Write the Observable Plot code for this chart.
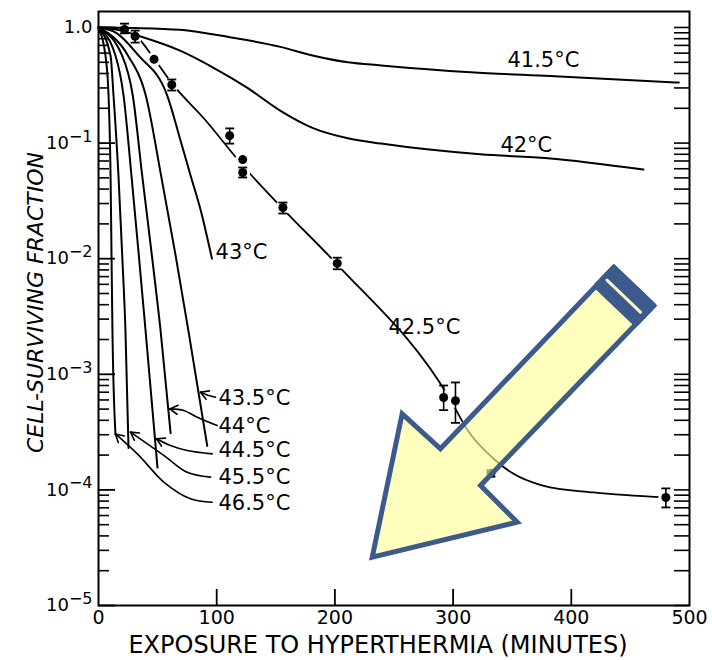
<!DOCTYPE html>
<html><head><meta charset="utf-8">
<script src="https://cdn.jsdelivr.net/npm/d3@7"></script>
<script src="https://cdn.jsdelivr.net/npm/@observablehq/plot@0.6"></script>
<style>
body{margin:0;background:#fff;}
svg{display:block;}
</style></head><body>
<script>
// ---------- data (minutes, surviving fraction) ----------
const t415Min  = [0, 30, 69, 112, 154, 182, 211, 239, 315, 382, 491];
const t415Frac = [1, 0.99, 0.955, 0.82, 0.68, 0.57, 0.50, 0.47, 0.41, 0.38, 0.334];
const t42Min   = [0, 15, 35, 69, 97, 126, 154, 182, 211, 239, 323, 380, 461];
const t42Frac  = [1, 0.96, 0.84, 0.63, 0.45, 0.30, 0.19, 0.134, 0.11, 0.099, 0.08, 0.074, 0.059];
const t425Min  = [0, 10, 22, 31, 47, 62, 90, 122, 156, 202, 297, 313, 334, 349, 376, 419, 480];
const t425Frac = [1, 0.995, 0.96, 0.86, 0.54, 0.33, 0.16, 0.064, 0.027, 0.0089, 6.2e-4, 3.2e-4, 1.87e-4, 1.42e-4, 1.09e-4, 9.5e-5, 8.6e-5];
const t43Min   = [0, 15, 34, 58, 70, 78, 87, 96];
const t43Frac  = [1, 0.9, 0.57, 0.26, 0.10, 0.052, 0.025, 0.01];
const t435Min  = [0, 25, 40, 53, 65, 76, 92];
const t435Frac = [1, 0.57, 0.258, 0.052, 0.011, 0.0024, 2.4e-4];
const t44Min   = [0, 20, 29, 37, 45, 52.5, 61];
const t44Frac  = [1, 0.57, 0.258, 0.052, 0.011, 0.0024, 3.1e-4];
const t445Min  = [0, 14.4, 21.2, 27.9, 34, 39.8, 49.9];
const t445Frac = [1, 0.57, 0.258, 0.052, 0.011, 0.0024, 1.56e-4];
const t455Min  = [0, 10.2, 12.7, 16.9, 20, 22.8, 25.4];
const t455Frac = [1, 0.57, 0.258, 0.052, 0.011, 0.0024, 2.3e-4];
const t465Min  = [0, 5.9, 8.5, 10.2, 11, 11.8, 14.4];
const t465Frac = [1, 0.57, 0.258, 0.052, 0.011, 0.0024, 3.0e-4];

// 42.5 °C measured points with error bars (null = no bar)
const ptMin  = [22, 31, 47, 62, 111, 122, 122, 156, 202, 292, 302, 332, 480];
const ptFrac = [0.96, 0.84, 0.53, 0.32, 0.116, 0.072, 0.0557, 0.0277, 0.0091, 6.3e-4, 5.9e-4, 1.39e-4, 8.6e-5];
const ptLo   = [0.89, 0.74, null, 0.285, 0.099, null, 0.0504, 0.0246, 0.0081, 4.9e-4, 3.8e-4, 1.3e-4, 7.05e-5];
const ptHi   = [1.08, 0.94, null, 0.355, 0.134, null, 0.0615, 0.0306, 0.0102, 8.0e-4, 8.5e-4, 1.48e-4, 1.03e-4];

// curve labels
const labelText = ["41.5°C", "42°C", "42.5°C", "43°C", "43.5°C", "44°C", "44.5°C", "45.5°C", "46.5°C"];
const labelMin  = [346, 340, 245.3, 99, 101.5, 101.5, 101.5, 101.5, 101.5];
const labelFrac = [0.519, 0.0953, 2.54e-3, 0.0113, 6.18e-4, 3.53e-4, 2.19e-4, 1.28e-4, 7.62e-5];

// leader lines (label -> curve end)
const lead435Min = [99.0, 93.3, 86.3];      const lead435Frac = [6.34e-4, 6.56e-4, 7.0e-4];
const lead44Min  = [100.4, 83.5, 72.2, 60.3]; const lead44Frac = [3.6e-4, 4.25e-4, 4.86e-4, 5.02e-4];
const lead445Min = [96.2, 75.0, 60.9, 49.1];  const lead445Frac = [2.05e-4, 2.19e-4, 2.42e-4, 2.77e-4];
const lead455Min = [94.8, 75.0, 55.2, 27.1];  const lead455Frac = [1.29e-4, 1.42e-4, 1.99e-4, 3.16e-4];
const lead465Min = [96.2, 77.8, 55.2, 34.1, 14.4]; const lead465Frac = [7.83e-5, 8.38e-5, 1.17e-4, 1.99e-4, 3.05e-4];

// axis ticks
const xTickValues = [0, 100, 200, 300, 400, 500];
const xInnerTicks = [100, 200, 300, 400];
const yTickValues = [1, 0.1, 0.01, 0.001, 1e-4, 1e-5];
const yTickBase   = ["1.0", "10", "10", "10", "10", "10"];
const yTickExp    = ["", "\u22121", "\u22122", "\u22123", "\u22124", "\u22125"];
const decades = [1e-5, 1e-4, 1e-3, 1e-2, 1e-1];
const minorMult = [2, 3, 4, 5, 6, 7, 8, 9];

// highlight arrow overlay (in data coordinates)
const arrowMin  = [452.88, 469.8, 323.2, 354.2, 231.6, 256.9, 289.3, 436.0, 452.88];
const arrowFrac = [5.765e-3, 3.937e-3, 1.091e-4, 5.255e-5, 2.617e-5, 4.551e-4, 2.267e-4, 8.44e-3, 5.765e-3];
const bandMin   = [436.0, 469.8, 454.6, 420.7, 436.0];
const bandFrac  = [8.44e-3, 3.937e-3, 2.706e-3, 5.804e-3, 8.44e-3];
const stripeMin = [430.2, 458.5];
const stripeFrac = [6.53e-3, 3.452e-3];

// ---------- layout ----------
const W = 712, H = 660, mL = 98, mR = 23, mT = 11, mB = 55;
const fw = W - mL - mR, fh = H - mT - mB;
const blue = "#3c5a8c";
const xDomain = [0, 500], yDomain = [1e-5, 1.375];

// ---------- build tables ----------
const rows = (name, ms, fs) => ms.map((m, i) => ({name, m, f: fs[i]}));
const curves = [
  ...rows("41.5", t415Min, t415Frac), ...rows("42", t42Min, t42Frac),
  ...rows("43", t43Min, t43Frac), ...rows("43.5", t435Min, t435Frac),
  ...rows("44", t44Min, t44Frac), ...rows("44.5", t445Min, t445Frac),
  ...rows("45.5", t455Min, t455Frac), ...rows("46.5", t465Min, t465Frac)
];
const line425 = rows("42.5", t425Min, t425Frac);
const points = ptMin.map((m, i) => ({m, f: ptFrac[i], lo: ptLo[i], hi: ptHi[i]}));
const bars = points.filter(d => d.lo != null);
const labels = labelText.map((t, i) => ({t, m: labelMin[i], f: labelFrac[i]}));
const leaderSets = [["43.5", lead435Min, lead435Frac], ["44", lead44Min, lead44Frac], ["44.5", lead445Min, lead445Frac], ["45.5", lead455Min, lead455Frac], ["46.5", lead465Min, lead465Frac]];
const leaders = leaderSets.flatMap(([n, ms, fs]) => rows(n, ms, fs));
// arrowhead wings: same scales as the plot, used only to orient the heads
const xs = d3.scaleLinear(xDomain, [mL, W - mR]);
const ys = d3.scaleLog(yDomain, [H - mB, mT]);
const wings = leaderSets.flatMap(([n, ms, fs]) => {
  const k = ms.length;
  const px = xs(ms[k - 1]), py = ys(fs[k - 1]);
  const qx = xs(ms[k - 2]), qy = ys(fs[k - 2]);
  const a = Math.atan2(qy - py, qx - px);
  return [-0.52, 0.52].map(s => ({x1: ms[k - 1], y1: fs[k - 1],
    x2: xs.invert(px + 9 * Math.cos(a + s)), y2: ys.invert(py + 9 * Math.sin(a + s))}));
});
const minorTicks = decades.flatMap(d => minorMult.map(k => k * d));
const allTicks = [...yTickValues, ...minorTicks];
const arrowRows = rows("arrow", arrowMin, arrowFrac);
const bandRows = rows("band", bandMin, bandFrac);
const stripeRows = rows("stripe", stripeMin, stripeFrac);

const capSymbol = {draw(ctx, size) { const r = Math.sqrt(size / Math.PI); ctx.moveTo(-r, 0); ctx.lineTo(r, 0); }};

const chart = Plot.plot({
  width: W, height: H,
  marginLeft: mL, marginRight: mR, marginTop: mT, marginBottom: mB,
  style: {fontFamily: "'DejaVu Sans', sans-serif", background: "white", color: "black"},
  x: {domain: xDomain},
  y: {type: "log", domain: yDomain},
  marks: [
    // inward ticks
    Plot.ruleY(minorTicks, {y: d => d, insetRight: fw - 11, strokeWidth: 1.6}),
    Plot.ruleY(yTickValues, {y: d => d, insetRight: fw - 17, strokeWidth: 1.8}),
    Plot.ruleY(allTicks, {y: d => d, insetLeft: fw - 15, strokeWidth: 1.6}),
    Plot.ruleX(xInnerTicks, {x: d => d, insetTop: fh - 16, strokeWidth: 1.8}),
    Plot.frame({strokeWidth: 2}),
    // tick labels
    Plot.axisY({ticks: yTickValues, tickSize: 0, tickPadding: 6, fontSize: 18, label: null,
      tickFormat: d => { const i = yTickValues.indexOf(d); return yTickBase[i] + yTickExp[i]; }}),
    Plot.axisX({ticks: xTickValues, tickSize: 0, tickPadding: 5, fontSize: 19, label: null, tickFormat: d => String(d)}),
    // axis titles
    Plot.text(["EXPOSURE TO HYPERTHERMIA (MINUTES)"], {text: d => d, frameAnchor: "bottom", lineAnchor: "middle", textAnchor: "middle", dy: 40, dx: -16, fontSize: 24}),
    Plot.text(["CELL-SURVIVING FRACTION"], {text: d => d, frameAnchor: "left", lineAnchor: "middle", textAnchor: "middle", rotate: -90, dx: -63, dy: -6, fontSize: 22, fontStyle: "italic"}),
    // 42.5 line with gaps at points
    Plot.line(line425, {x: "m", y: "f", curve: "monotone-x", strokeWidth: 1.8}),
    Plot.dot(points, {x: "m", y: "f", r: 7.5, fill: "white"}),
    // other survival curves
    Plot.line(curves, {x: "m", y: "f", z: "name", curve: "monotone-x", strokeWidth: 2}),
    // error bars and points
    Plot.ruleX(bars, {x: "m", y1: "lo", y2: "hi", strokeWidth: 1.6}),
    Plot.dot(bars, {x: "m", y: "lo", symbol: capSymbol, r: 4.5, stroke: "black", strokeWidth: 1.8}),
    Plot.dot(bars, {x: "m", y: "hi", symbol: capSymbol, r: 4.5, stroke: "black", strokeWidth: 1.8}),
    Plot.dot(points, {x: "m", y: "f", r: 4.5, fill: "black"}),
    // leaders and labels
    Plot.line(leaders, {x: "m", y: "f", z: "name", curve: "catmull-rom", strokeWidth: 1.6}),
    Plot.link(wings, {x1: "x1", y1: "y1", x2: "x2", y2: "y2", strokeWidth: 1.6, strokeLinecap: "round"}),
    Plot.text(labels, {x: "m", y: "f", text: "t", textAnchor: "start", fontSize: 21}),
    // highlight arrow overlay
    Plot.line(arrowRows, {x: "m", y: "f", curve: "linear", fill: "#ffff99", fillOpacity: 0.65, stroke: blue, strokeWidth: 5, strokeLinejoin: "miter", strokeMiterlimit: 10}),
    Plot.line(bandRows, {x: "m", y: "f", curve: "linear", fill: blue, stroke: blue, strokeWidth: 5, strokeLinejoin: "miter"}),
    Plot.line(stripeRows, {x: "m", y: "f", curve: "linear", stroke: "#fbf8c4", strokeWidth: 3})
  ]
});

// typeset the exponents of the y tick labels as raised text
d3.select(chart).selectAll('g[aria-label="y-axis tick label"] text').each(function () {
  const t = d3.select(this);
  const s = t.text();
  const i = yTickBase.findIndex((b, j) => b + yTickExp[j] === s);
  if (i < 0 || !yTickExp[i]) return;
  t.text(yTickBase[i]);
  t.append("tspan").attr("dy", "-0.45em").attr("font-size", "16px").text(yTickExp[i]);
});
document.body.appendChild(chart);
</script>
</body></html>
